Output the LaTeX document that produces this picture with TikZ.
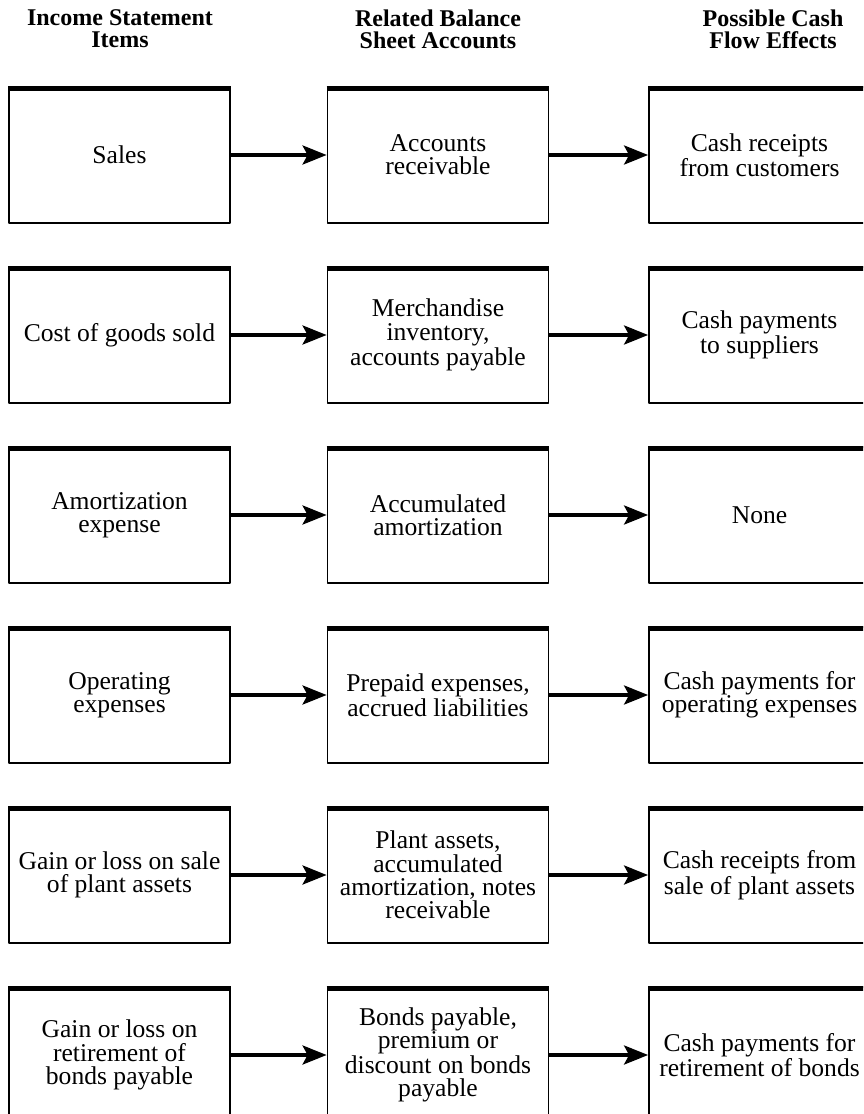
\documentclass[tikz,border=0pt]{standalone}
\usepackage{fontspec}
\setmainfont{Liberation Serif}
\usepackage{tikz}
\usetikzlibrary{arrows.meta}
\tikzset{
  every picture/.append style={line cap=round,line join=round},
  flow title/.style={font=\bfseries\fontsize{12}{11}\selectfont,align=center,inner sep=0pt},
  flow box/.style={draw,line width=0.9pt,minimum width=110.5pt,minimum height=68pt,
    inner sep=0pt,align=center,font=\fontsize{12.8}{11.6}\selectfont},
  flow top/.style={line width=2.4pt,line cap=butt},
  flow arrow/.style={line width=1.75pt,line cap=butt,-{Stealth[length=12pt,width=9.5pt,inset=2.5pt]}}
}
\begin{document}
\begin{tikzpicture}[x=0.5pt,y=-0.5pt]
  \useasboundingbox (0,0) rectangle (863,1114);
  \clip (0,0) rectangle (863,1114);
  % column headings
  \node[flow title] (head1) at (120,29) {Income Statement\\Items};
  \node[flow title] (head2) at (438,29) {Related Balance\\Sheet Accounts};
  \node[flow title] (head3) at (773,29) {Possible Cash\\Flow Effects};
  % income statement items
  \node[flow box] (inc1) at (119.5,155)  {Sales};
  \node[flow box] (inc2) at (119.5,335)  {Cost of goods sold};
  \node[flow box] (inc3) at (119.5,515)  {Amortization\\expense};
  \node[flow box] (inc4) at (119.5,695)  {Operating\\expenses};
  \node[flow box] (inc5) at (119.5,875)  {Gain or loss on sale\\of plant assets};
  \node[flow box] (inc6) at (119.5,1055) {Gain or loss on\\retirement of\\bonds payable};
  % balance sheet accounts
  \node[flow box] (bal1) at (438,155)  {Accounts\\receivable};
  \node[flow box] (bal2) at (438,335)  {Merchandise\\inventory,\\accounts payable};
  \node[flow box] (bal3) at (438,515)  {Accumulated\\amortization};
  \node[flow box] (bal4) at (438,695)  {Prepaid expenses,\\accrued liabilities};
  \node[flow box] (bal5) at (438,875)  {Plant assets,\\accumulated\\amortization, notes\\receivable};
  \node[flow box] (bal6) at (438,1055) {Bonds payable,\\premium or\\discount on bonds\\payable};
  % cash flow effects
  \node[flow box] (cash1) at (759.5,155)  {Cash receipts\\from customers};
  \node[flow box] (cash2) at (759.5,335)  {Cash payments\\to suppliers};
  \node[flow box] (cash3) at (759.5,515)  {None};
  \node[flow box] (cash4) at (759.5,695)  {Cash payments for\\operating expenses};
  \node[flow box] (cash5) at (759.5,875)  {Cash receipts from\\sale of plant assets};
  \node[flow box] (cash6) at (759.5,1055) {Cash payments for\\retirement of bonds};
  \foreach \r in {1,...,6} {
    \foreach \c in {inc,bal,cash}
      \draw[flow top] ([yshift=-1pt]\c\r.north west) -- ([yshift=-1pt]\c\r.north east);
    \draw[flow arrow] (inc\r) -- (bal\r);
    \draw[flow arrow] (bal\r) -- (cash\r);
  }
\end{tikzpicture}
\end{document}
